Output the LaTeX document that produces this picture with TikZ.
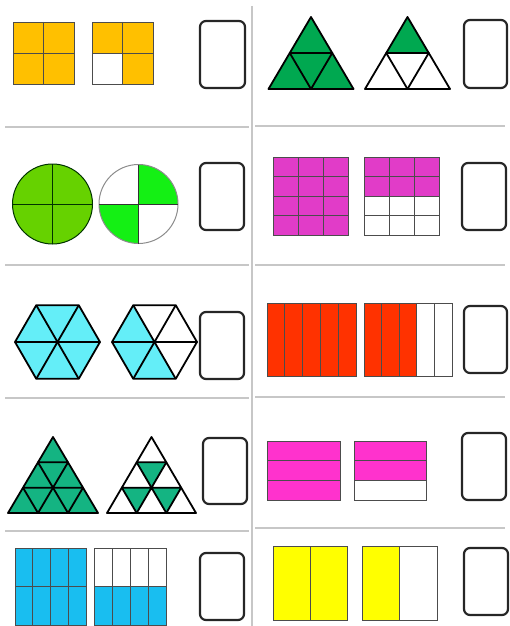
\documentclass[tikz,border=0pt]{standalone}
\definecolor{cOrange}{RGB}{255,192,0}
\definecolor{cGreen}{RGB}{0,168,80}
\definecolor{cLime}{RGB}{102,210,0}
\definecolor{cLimeB}{RGB}{20,240,20}
\definecolor{cMag}{RGB}{225,60,200}
\definecolor{cCyan}{RGB}{100,238,248}
\definecolor{cRed}{RGB}{255,50,0}
\definecolor{cTeal}{RGB}{20,180,130}
\definecolor{cPink}{RGB}{255,50,205}
\definecolor{cSky}{RGB}{25,190,240}
\definecolor{cYellow}{RGB}{255,255,0}
\tikzset{
  sepline/.style={draw=black!22, line width=1.3pt},
  ansbox/.style={draw=black!85, line width=2.2pt, rounded corners=6pt},
  thinln/.style={draw=black!70, line width=0.8pt},
  thickln/.style={draw=black, line width=1.8pt, line join=round},
}
% rectangle grid: x0 y0 x1 y1 cols rows
\newcommand\cellgrid[6]{%
  \draw[thinln] (#1,#2) rectangle (#3,#4);
  \foreach \ci in {1,...,#5}{\ifnum\ci<#5 \draw[thinln] ({#1+\ci*(#3-#1)/#5},#2) -- ({#1+\ci*(#3-#1)/#5},#4);\fi}
  \foreach \cj in {1,...,#6}{\ifnum\cj<#6 \draw[thinln] (#1,{#2+\cj*(#4-#2)/#6}) -- (#3,{#2+\cj*(#4-#2)/#6});\fi}
}
% fill cells: x0 y0 x1 y1 cols rows colour list(col/row)
\newcommand\cellfill[8]{%
  \foreach \ci/\cj in {#8}{\fill[#7] ({#1+\ci*(#3-#1)/#5},{#2+\cj*(#4-#2)/#6}) rectangle ({#1+(\ci+1)*(#3-#1)/#5},{#2+(\cj+1)*(#4-#2)/#6});}
}
% triangle cells: ax ay H W k i options
\newcommand\upcell[7]{%
  \path[#7] ({#1+(2*#6-#5)*#4},{#2+#5*#3}) -- ({#1+(2*#6-#5-1)*#4},{#2+(#5+1)*#3}) -- ({#1+(2*#6-#5+1)*#4},{#2+(#5+1)*#3}) -- cycle;}
\newcommand\dncell[7]{%
  \path[#7] ({#1+(2*#6-#5)*#4},{#2+#5*#3}) -- ({#1+(2*#6-#5+2)*#4},{#2+#5*#3}) -- ({#1+(2*#6-#5+1)*#4},{#2+(#5+1)*#3}) -- cycle;}
% outline of triangle grid: ax ay H W n-1
\newcommand\trilines[5]{%
  \foreach \k in {0,...,#5}{\foreach \i in {0,...,\k}{\upcell{#1}{#2}{#3}{#4}{\k}{\i}{thickln}}}}
\begin{document}
\begin{tikzpicture}[x=1pt,y=-1pt]
\useasboundingbox (0,0) rectangle (510,626);
% separators
\draw[sepline] (252,6) -- (252,626);
\foreach \yy in {127,265,398,531}{\draw[sepline] (5,\yy) -- (249,\yy);}
\foreach \yy in {126,265,397,528}{\draw[sepline] (255,\yy) -- (505,\yy);}

% ---------- row 1 left: squares
\fill[cOrange] (13,22) rectangle (74,84);
\cellgrid{13}{22}{74}{84}{2}{2}
\cellfill{92}{22}{153}{84}{2}{2}{cOrange}{0/0,1/0,1/1}
\cellgrid{92}{22}{153}{84}{2}{2}
\draw[ansbox] (200,21) rectangle (245,88);

% ---------- row 1 right: triangles
\upcell{311}{17}{72}{42.5}{0}{0}{fill=cGreen}
\trilines{311}{17}{36}{21.25}{1}
\upcell{407.5}{17}{36}{21.25}{0}{0}{fill=cGreen}
\trilines{407.5}{17}{36}{21.25}{1}
\draw[ansbox] (464,20) rectangle (507,88);

% ---------- row 2 left: circles
\fill[cLime] (52.5,204) circle[radius=40pt];
\draw[draw=black!60!green!50!black, line width=1pt] (52.5,204) circle[radius=40pt];
\draw[draw=black!60!green!50!black, line width=1pt] (12.5,204) -- (92.5,204) (52.5,164) -- (52.5,244);
\fill[cLimeB] (138.5,204) -- ++(39.5pt,0pt) arc[start angle=0,end angle=90,radius=39.5pt] -- cycle;
\fill[cLimeB] (138.5,204) -- ++(-39.5pt,0pt) arc[start angle=180,end angle=270,radius=39.5pt] -- cycle;
\draw[draw=black!45, line width=1pt] (138.5,204) circle[radius=39.5pt];
\draw[draw=black!80, line width=0.9pt] (99,204) -- (178,204) (138.5,164.5) -- (138.5,243.5);
\draw[ansbox] (200,163) rectangle (244,230);

% ---------- row 2 right: 3x4 grids
\fill[cMag] (273,157) rectangle (348,235);
\cellgrid{273}{157}{348}{235}{3}{4}
\fill[cMag] (364,157) rectangle (439,196);
\cellgrid{364}{157}{439}{235}{3}{4}
\draw[ansbox] (462,163) rectangle (506,230);

% ---------- row 3 left: hexagons
\def\hR{42.5}\def\hh{36.8}
\fill[cCyan] (100,342) -- (78.75,305.2) -- (36.25,305.2) -- (15,342) -- (36.25,378.8) -- (78.75,378.8) -- cycle;
\draw[thickln] (100,342) -- (78.75,305.2) -- (36.25,305.2) -- (15,342) -- (36.25,378.8) -- (78.75,378.8) -- cycle;
\draw[thickln] (15,342) -- (100,342) (36.25,305.2) -- (78.75,378.8) (78.75,305.2) -- (36.25,378.8);
\fill[black] (57.5,342) circle[radius=1.8pt];
\fill[cCyan] (154.5,342) -- (133.25,305.2) -- (112,342) -- (133.25,378.8) -- (175.75,378.8) -- cycle;
\draw[thickln] (197,342) -- (175.75,305.2) -- (133.25,305.2) -- (112,342) -- (133.25,378.8) -- (175.75,378.8) -- cycle;
\draw[thickln] (112,342) -- (197,342) (133.25,305.2) -- (175.75,378.8) (175.75,305.2) -- (133.25,378.8);
\fill[black] (154.5,342) circle[radius=1.8pt];
\draw[ansbox] (200,312) rectangle (244,379);

% ---------- row 3 right: strips of five
\fill[cRed] (267,303) rectangle (356,376);
\cellgrid{267}{303}{356}{376}{5}{1}
\cellfill{364}{303}{452}{376}{5}{1}{cRed}{0/0,1/0,2/0}
\cellgrid{364}{303}{452}{376}{5}{1}
\draw[ansbox] (464,306) rectangle (507,373);

% ---------- row 4 left: triangles of nine
\upcell{53}{437}{76}{45}{0}{0}{fill=cTeal}
\trilines{53}{437}{25.333}{15}{2}
\dncell{151.5}{437}{25.333}{14.833}{1}{0}{fill=cTeal}
\dncell{151.5}{437}{25.333}{14.833}{2}{0}{fill=cTeal}
\dncell{151.5}{437}{25.333}{14.833}{2}{1}{fill=cTeal}
\trilines{151.5}{437}{25.333}{14.833}{2}
\draw[ansbox] (203,438) rectangle (247,504);

% ---------- row 4 right: thirds
\fill[cPink] (267,441) rectangle (340,500);
\cellgrid{267}{441}{340}{500}{1}{3}
\cellfill{354}{441}{426}{500}{1}{3}{cPink}{0/0,0/1}
\cellgrid{354}{441}{426}{500}{1}{3}
\draw[ansbox] (462,433) rectangle (506,500);

% ---------- row 5 left: 4x2 grids
\fill[cSky] (15,548) rectangle (86,625);
\cellgrid{15}{548}{86}{625}{4}{2}
\cellfill{94}{548}{166}{625}{4}{2}{cSky}{0/1,1/1,2/1,3/1}
\cellgrid{94}{548}{166}{625}{4}{2}
\draw[ansbox] (200,553) rectangle (244,620);

% ---------- row 5 right: halves
\fill[cYellow] (273,546) rectangle (347,620);
\cellgrid{273}{546}{347}{620}{2}{1}
\cellfill{362}{546}{437}{620}{2}{1}{cYellow}{0/0}
\cellgrid{362}{546}{437}{620}{2}{1}
\draw[ansbox] (464,548) rectangle (508,615);
\end{tikzpicture}
\end{document}
